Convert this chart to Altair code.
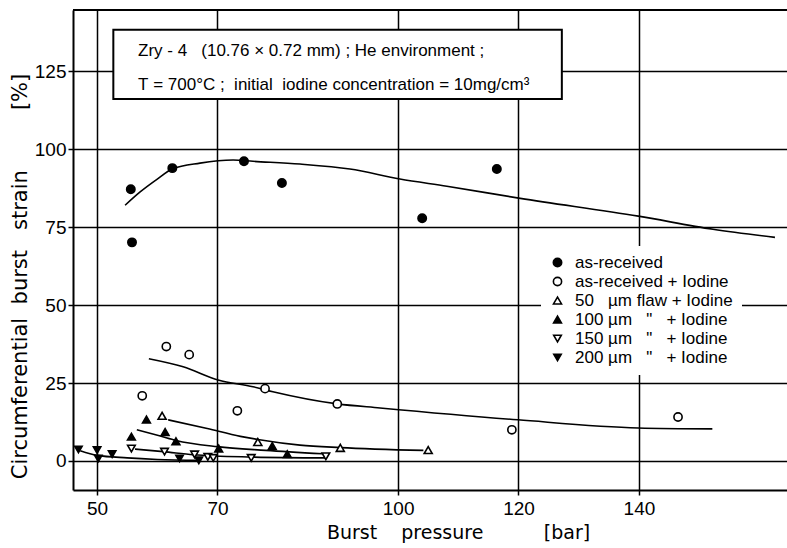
import altair as alt
import pandas as pd

NB = "\u00a0"
NARROW = "Liberation Sans, Arial, sans-serif"
WIDE = "DejaVu Sans, sans-serif"

# ---- data ----
series_names = [
    "as-received",
    "as-received" + NB + "+" + NB + "Iodine",
    "50" + NB * 3 + "µm" + NB + "flaw" + NB + "+" + NB + "Iodine",
    "100" + NB + "µm" + NB * 3 + '"' + NB * 3 + "+" + NB + "Iodine",
    "150" + NB + "µm" + NB * 3 + '"' + NB * 3 + "+" + NB + "Iodine",
    "200" + NB + "µm" + NB * 3 + '"' + NB * 3 + "+" + NB + "Iodine",
]
series_shapes = ["circle", "circle", "triangle-up", "triangle-up", "triangle-down", "triangle-down"]
series_fills = ["black", "white", "white", "black", "white", "black"]
series_strokes = ["black"] * 6
series_sizes = [70, 55, 150, 110, 100, 115]

p_asrec = [55.6, 55.8, 62.5, 74.4, 80.7, 104.0, 116.4]
s_asrec = [87.1, 70.1, 93.9, 96.1, 89.1, 77.8, 93.6]
p_iod = [57.5, 61.5, 65.3, 73.3, 77.9, 89.9, 118.9, 146.5]
s_iod = [20.9, 36.7, 34.1, 16.1, 23.2, 18.3, 10.0, 14.1]
p_f50 = [60.8, 76.7, 90.4, 105.0]
s_f50 = [14.5, 6.1, 4.2, 3.5]
p_f100 = [55.7, 58.2, 61.3, 63.1, 70.2, 79.1, 81.6]
s_f100 = [7.8, 13.3, 9.3, 6.3, 4.0, 4.8, 2.2]
p_f150 = [55.7, 61.2, 66.2, 68.4, 69.3, 75.6, 88.0]
s_f150 = [4.0, 3.0, 2.1, 1.3, 1.0, 1.0, 1.5]
p_f200 = [46.9, 50.0, 50.2, 52.5, 63.7, 66.9]
s_f200 = [3.7, 3.5, 0.8, 2.2, 0.8, 0.2]

# hand-drawn trend curves
c_asrec_p = [54.65, 57.1, 60.0, 62.5, 67.1, 72.6, 75.9, 83.7, 92.0, 100.3, 108.1, 120.3, 139.9, 152.3, 162.6]
c_asrec_s = [82.0, 86.2, 90.4, 93.6, 95.5, 96.5, 96.1, 95.2, 93.6, 90.4, 88.1, 84.2, 78.5, 74.3, 71.7]
c_iod_p = [58.6, 64.3, 70.1, 75.9, 79.2, 89.9, 97.0, 119.9, 139.9, 152.2]
c_iod_s = [32.8, 30.2, 26.0, 23.8, 22.2, 18.3, 17.0, 13.2, 10.6, 10.3]
c_f50_p = [61.8, 68.3, 73.8, 76.7, 83.7, 90.4, 104.2]
c_f50_s = [13.2, 10.4, 7.9, 6.9, 5.1, 4.3, 3.4]
c_f100_p = [56.6, 60.5, 63.1, 70.0, 78.0, 87.5]
c_f100_s = [10.0, 8.0, 6.6, 4.6, 3.4, 2.3]
c_f150_p = [56.3, 61.0, 66.0, 75.0, 88.0]
c_f150_s = [3.8, 3.0, 2.0, 1.3, 1.0]
c_f200_p = [47.2, 50.0, 55.0, 60.0, 67.0]
c_f200_s = [3.3, 1.8, 1.0, 0.5, 0.2]

x_ticks = [50, 70, 100, 120, 140]
y_ticks = [0, 25, 50, 75, 100, 125]
X_DOMAIN = [46.0, 164.6]
Y_DOMAIN = [-9.3, 144.6]

note_lines = [
    "Zry" + NB + "-" + NB + "4" + NB * 3 + "(10.76" + NB + "×" + NB + "0.72" + NB + "mm)" + NB + ";" + NB + "He" + NB + "environment" + NB + ";",
    "T" + NB + "=" + NB + "700°C" + NB + ";" + NB * 2 + "initial" + NB * 2 + "iodine" + NB + "concentration" + NB + "=" + NB + "10mg/cm³",
]

# ---- tables ----
pts = []
for name, ps, ss in zip(series_names,
                        [p_asrec, p_iod, p_f50, p_f100, p_f150, p_f200],
                        [s_asrec, s_iod, s_f50, s_f100, s_f150, s_f200]):
    for p, s in zip(ps, ss):
        pts.append({"series": name, "p": p, "s": s})
pts = pd.DataFrame(pts)

curves = []
for cid, ps, ss in zip(range(6),
                       [c_asrec_p, c_iod_p, c_f50_p, c_f100_p, c_f150_p, c_f200_p],
                       [c_asrec_s, c_iod_s, c_f50_s, c_f100_s, c_f150_s, c_f200_s]):
    for i, (p, s) in enumerate(zip(ps, ss)):
        curves.append({"curve": cid, "i": i, "p": p, "s": s})
curves = pd.DataFrame(curves)

box = pd.DataFrame([{"x0": 52.7, "x1": 127.2, "y0": 116.1, "y1": 138.3}])
notes = pd.DataFrame([{"tx": 56.8, "ty": 131.3, "label": note_lines[0]},
                      {"tx": 56.8, "ty": 120.4, "label": note_lines[1]}])
top = pd.DataFrame([{"v": Y_DOMAIN[1]}])

XS = alt.Scale(domain=X_DOMAIN, nice=False, zero=False)
YS = alt.Scale(domain=Y_DOMAIN, nice=False, zero=False)
XA = alt.Axis(values=x_ticks, grid=True, gridColor="black", gridWidth=1.5, gridOpacity=1,
              domainColor="black", domainWidth=2, tickColor="black", tickWidth=1.5, tickSize=5,
              labelFont=NARROW, labelFontSize=19, labelColor="black", labelPadding=4,
              title="Burst" + NB * 4 + "pressure" + NB * 10 + "[bar]",
              titleFont=WIDE, titleFontSize=19, titleFontWeight="normal", titleColor="black",
              titleX=385, titleY=48, titleBaseline="alphabetic", titleAnchor="middle")
YA = alt.Axis(values=y_ticks, grid=True, gridColor="black", gridWidth=1.5, gridOpacity=1,
              domainColor="black", domainWidth=2, tickColor="black", tickWidth=1.5, tickSize=5,
              labelFont=NARROW, labelFontSize=19, labelColor="black", labelPadding=2,
              title="Circumferential" + NB * 2 + "burst" + NB * 3 + "strain" + NB * 9 + "[%]",
              titleFont=WIDE, titleFontSize=21, titleFontWeight="normal", titleColor="black",
              titleAngle=270, titleX=-47, titleY=266, titleBaseline="alphabetic", titleAlign="center")


def X(f):
    return alt.X(f, type="quantitative", scale=XS, axis=XA)


def Y(f):
    return alt.Y(f, type="quantitative", scale=YS, axis=YA)


LEG = alt.Legend(title=None, orient="none", legendX=468, legendY=236, fillColor="white",
                 padding=8, labelFont=NARROW, labelFontSize=17, labelColor="black",
                 symbolStrokeColor="black", symbolStrokeWidth=1.6,
                 rowPadding=1, labelOffset=9, labelLimit=400, strokeColor="white")

lines = alt.Chart(curves).mark_line(color="black", strokeWidth=1.6, interpolate="monotone").encode(
    x=X("p"), y=Y("s"), detail="curve:N", order="i:Q")

points = alt.Chart(pts).mark_point(filled=True, strokeWidth=1.6, opacity=1).encode(
    x=X("p"), y=Y("s"),
    fill=alt.Fill("series:N", scale=alt.Scale(domain=series_names, range=series_fills), legend=LEG),
    stroke=alt.Stroke("series:N", scale=alt.Scale(domain=series_names, range=series_strokes), legend=LEG),
    shape=alt.Shape("series:N", scale=alt.Scale(domain=series_names, range=series_shapes), legend=LEG),
    size=alt.Size("series:N", scale=alt.Scale(domain=series_names, range=series_sizes), legend=LEG),
)

rect = alt.Chart(box).mark_rect(fill="white", stroke="black", strokeWidth=2).encode(
    x=X("x0"), x2="x1", y=Y("y0"), y2="y1")

text = alt.Chart(notes).mark_text(align="left", baseline="middle", font=NARROW, fontSize=17,
                                  color="black").encode(x=X("tx"), y=Y("ty"), text="label:N")

toprule = alt.Chart(top).mark_rule(color="black", strokeWidth=2).encode(y=Y("v"))

chart = alt.layer(lines, points, rect, text, toprule).properties(
    width=714, height=480,
    autosize=alt.AutoSizeParams(type="none"),
    padding={"left": 73, "top": 10, "right": 0, "bottom": 58},
    background="white",
).configure_view(stroke=None)

chart.save("out.html", embed_options={"renderer": "svg", "actions": False})
